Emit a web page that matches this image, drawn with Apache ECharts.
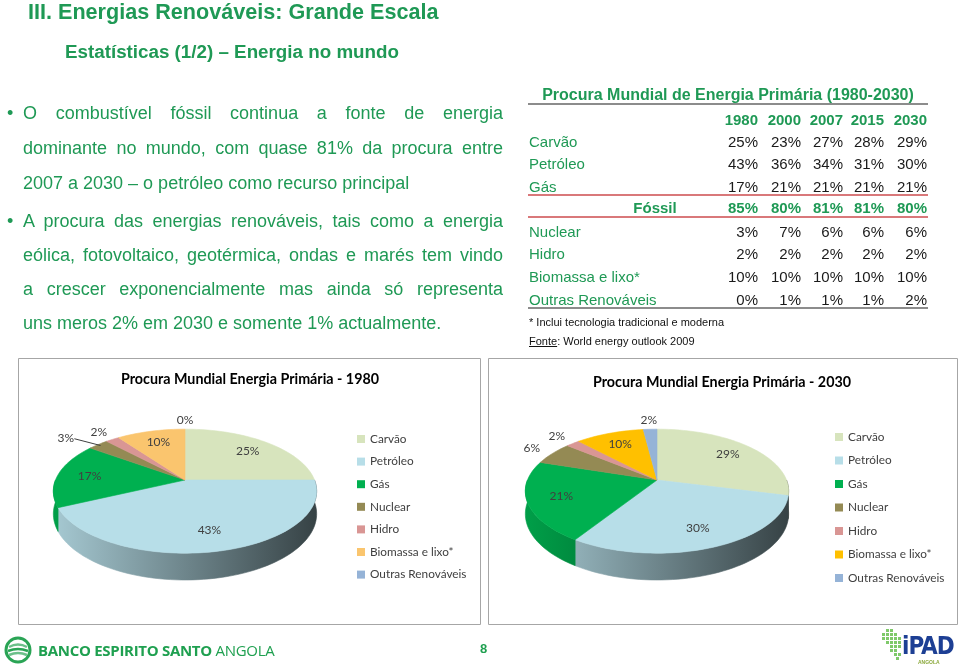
<!DOCTYPE html>
<html>
<head>
<meta charset="utf-8">
<script src="https://cdn.jsdelivr.net/npm/echarts@6/dist/echarts.min.js"></script>
<style>
  html, body { margin:0; padding:0; background:#ffffff; }
  #page { position:relative; width:960px; height:671px; overflow:hidden; background:#ffffff; }
  #chart { position:absolute; left:0; top:0; width:960px; height:671px; }
  .txt { position:absolute; white-space:nowrap; font-family:'Liberation Sans', Arial, sans-serif; color:#1f9955; z-index:3; }
  .jl { text-align:justify; text-align-last:justify; }
</style>
</head>
<body>
<div id="page">
  <div id="chart"></div>
  <div id="texts"></div>
  <div id="table"></div>
</div>
<script>
// ---------------- DATA ----------------
const categories = ['Carvão', 'Petróleo', 'Gás', 'Nuclear', 'Hidro', 'Biomassa e lixo*', 'Outras Renováveis'];
const years = ['1980', '2000', '2007', '2015', '2030'];
const carvao   = [25, 23, 27, 28, 29];
const petroleo = [43, 36, 34, 31, 30];
const gas      = [17, 21, 21, 21, 21];
const fossil   = [85, 80, 81, 81, 80];
const nuclear  = [3, 7, 6, 6, 6];
const hidro    = [2, 2, 2, 2, 2];
const biomassa = [10, 10, 10, 10, 10];
const outras   = [0, 1, 1, 1, 2];
const pieYearIdx = [0, 4]; // 1980, 2030

const slideTitle = 'III. Energias Renováveis: Grande Escala';
const slideSubtitle = 'Estatísticas (1/2) – Energia no mundo';
const tableTitle = 'Procura Mundial de Energia Primária (1980-2030)';
const pieTitlePrefix = 'Procura Mundial Energia Primária - ';
const footnote1 = '* Inclui tecnologia tradicional e moderna';
const bullet1 = ['O combustível fóssil continua a fonte de energia', 'dominante no mundo, com quase 81% da procura entre', '2007 a 2030 – o petróleo como recurso principal'];
const bullet2 = ['A procura das energias renováveis, tais como a energia', 'eólica, fotovoltaico, geotérmica, ondas e marés tem vindo', 'a crescer exponencialmente mas ainda só representa', 'uns meros 2% em 2030 e somente 1% actualmente.'];

// ---------------- STYLE ----------------
const GREEN = '#1f9955';
const colors1980 = ['#d7e4bd', '#b7dee8', '#00b050', '#948a54', '#d99694', '#fac56e', '#95b3d7'];
const colors2030 = ['#d7e4bd', '#b7dee8', '#00b050', '#948a54', '#d99694', '#ffc000', '#95b3d7'];

// ---------------- HTML TEXT ----------------
const texts = document.getElementById('texts');
function addDiv(html, css, cls) {
  const d = document.createElement('div');
  d.className = 'txt' + (cls ? ' ' + cls : '');
  d.style.cssText = css;
  d.innerHTML = html;
  texts.appendChild(d);
  return d;
}
addDiv(slideTitle, 'left:28px;top:0px;font-weight:bold;font-size:21.6px;line-height:24px;');
addDiv(slideSubtitle, 'left:65px;top:41px;font-weight:bold;font-size:18.8px;line-height:22px;');

const lineCenters1 = [113, 148, 183];
const lineCenters2 = [221, 255, 289, 323];
function addBullet(lines, centers) {
  addDiv('•', `left:7px;top:${centers[0]-17}px;font-size:18px;line-height:35px;`);
  lines.forEach((ln, i) => {
    const last = i === lines.length - 1;
    addDiv(ln, `left:23px;top:${centers[i]-17}px;width:${last ? 'auto' : '480px'};font-size:18px;line-height:35px;white-space:normal;`, last ? '' : 'jl');
  });
}
addBullet(bullet1, lineCenters1);
addBullet(bullet2, lineCenters2);

// ---------------- TABLE ----------------
const colRight = [758, 801, 843, 884, 927];
const tableRows = [
  { label: 'Carvão', vals: carvao, y: 142 },
  { label: 'Petróleo', vals: petroleo, y: 164 },
  { label: 'Gás', vals: gas, y: 187 },
  { label: 'Fóssil', vals: fossil, y: 208, bold: true },
  { label: 'Nuclear', vals: nuclear, y: 232 },
  { label: 'Hidro', vals: hidro, y: 254 },
  { label: 'Biomassa e lixo*', vals: biomassa, y: 277 },
  { label: 'Outras Renováveis', vals: outras, y: 300 }
];
addDiv(tableTitle, 'left:528px;width:400px;text-align:center;top:85px;font-weight:bold;font-size:16px;line-height:20px;');
function hline(y, color, h) {
  const d = document.createElement('div');
  d.style.cssText = `position:absolute;left:528px;width:400px;top:${y}px;height:${h}px;background:${color};z-index:3;`;
  texts.appendChild(d);
}
hline(103, '#8c8c8c', 2);
hline(194, '#d9787a', 1.5);
hline(216, '#d9787a', 1.5);
hline(307, '#8c8c8c', 2);
years.forEach((yr, j) => {
  addDiv(yr, `left:${colRight[j]-60}px;width:60px;text-align:right;top:${120-10}px;font-weight:bold;font-size:15px;line-height:20px;`);
});
tableRows.forEach(r => {
  if (r.bold) {
    addDiv(r.label, `left:600px;width:110px;text-align:center;top:${r.y-10}px;font-weight:bold;font-size:15px;line-height:20px;`);
  } else {
    addDiv(r.label, `left:529px;top:${r.y-10}px;font-size:15px;line-height:20px;`);
  }
  r.vals.forEach((v, j) => {
    addDiv(v + '%', `left:${colRight[j]-60}px;width:60px;text-align:right;top:${r.y-10}px;font-size:15px;line-height:20px;color:${r.bold ? GREEN : '#1a1a1a'};${r.bold ? 'font-weight:bold;' : ''}`);
  });
});
addDiv(footnote1, 'left:529px;top:314px;font-size:11px;line-height:16px;color:#111;');
addDiv('<span style="text-decoration:underline">Fonte</span>: World energy outlook 2009', 'left:529px;top:333px;font-size:11px;line-height:16px;color:#111;');

// ---------------- FOOTER ----------------
addDiv('<svg width="28" height="28" viewBox="0 0 28 28"><circle cx="14" cy="14" r="12" fill="#ffffff" stroke="#2aa455" stroke-width="3"/><path d="M5 11 Q14 6 23 11" stroke="#6cc08a" stroke-width="2.5" fill="none"/><path d="M4 15 Q14 11 24 15" stroke="#2aa455" stroke-width="2.5" fill="none"/><path d="M5 19 Q14 15 23 19" stroke="#6cc08a" stroke-width="2.5" fill="none"/></svg>', 'left:4px;top:636px;line-height:0;');
addDiv('<b>BANCO ESPIRITO SANTO</b> ANGOLA', "left:38px;top:641px;font-family:'Open Sans',sans-serif;font-size:15px;line-height:18px;color:#1fa050;letter-spacing:-0.3px;");
addDiv('8', 'left:480px;top:640px;font-weight:bold;font-size:13px;line-height:18px;color:#1fa050;');
addDiv('<svg width="30" height="40" viewBox="0 0 30 40"><g fill="#7fc96a"><rect x="8" y="2" width="3" height="3"/><rect x="12" y="2" width="3" height="3"/><rect x="4" y="6" width="3" height="3"/><rect x="8" y="6" width="3" height="3"/><rect x="12" y="6" width="3" height="3"/><rect x="16" y="6" width="3" height="3"/><rect x="4" y="10" width="3" height="3"/><rect x="8" y="10" width="3" height="3"/><rect x="12" y="10" width="3" height="3"/><rect x="16" y="10" width="3" height="3"/><rect x="20" y="10" width="3" height="3"/><rect x="8" y="14" width="3" height="3"/><rect x="12" y="14" width="3" height="3"/><rect x="16" y="14" width="3" height="3"/><rect x="20" y="14" width="3" height="3"/><rect x="12" y="18" width="3" height="3"/><rect x="16" y="18" width="3" height="3"/><rect x="20" y="18" width="3" height="3"/><rect x="12" y="22" width="3" height="3"/><rect x="16" y="22" width="3" height="3"/><rect x="16" y="26" width="3" height="3"/><rect x="20" y="26" width="3" height="3"/><rect x="18" y="30" width="3" height="3"/></g></svg>', 'left:878px;top:627px;line-height:0;');
addDiv('iPAD', "left:902px;top:632px;font-family:'DejaVu Sans Condensed','DejaVu Sans',sans-serif;font-weight:bold;font-size:24px;line-height:28px;color:#1d3f94;letter-spacing:-1px;");
addDiv('ANGOLA', 'left:918px;top:659px;font-size:5px;line-height:6px;color:#8aa83a;font-weight:bold;');

// ---------------- PIES ----------------
const seriesByCat = [carvao, petroleo, gas, nuclear, hidro, biomassa, outras];
const G = { A: 129.5, B: 60, P: 0.18, D: 22 };
const pies = [
  { idx: pieYearIdx[0], colors: colors1980, cx: 185, cy: 480, legendLeft: 357, legendTop: 431, legendGap: 6.6, titleX: 250, titleY: 379 },
  { idx: pieYearIdx[1], colors: colors2030, cx: 657, cy: 480, legendLeft: 835, legendTop: 429, legendGap: 7.5, titleX: 722, titleY: 382 }
];
pies.forEach(p => { p.values = seriesByCat.map(a => a[p.idx]); p.year = years[p.idx]; });

function proj(pie, theta, f) {
  const t = theta * Math.PI / 180;
  const u = f * Math.sin(t), v = f * Math.cos(t);
  const s = 1 / (1 + G.P * v);
  return [pie.cx + G.A * u * s, pie.cy - G.B * v * s, s];
}
function shade(hex, k) {
  const n = parseInt(hex.slice(1), 16);
  const r = Math.round(((n >> 16) & 255) * k), g = Math.round(((n >> 8) & 255) * k), b = Math.round((n & 255) * k);
  return 'rgb(' + r + ',' + g + ',' + b + ')';
}
function layoutPie(pie) {
  const total = pie.values.reduce((a, b) => a + b, 0);
  let acc = 0;
  pie.slices = pie.values.map(v => {
    const s = acc / total * 360; acc += v; const e = acc / total * 360;
    return { start: s, end: e, mid: (s + e) / 2, value: v };
  });
  pie.slices.forEach(sl => {
    sl.inside = sl.value >= 7;
    const p = proj(pie, sl.mid, sl.inside ? 0.75 : 1.22);
    sl.lx = p[0]; sl.ly = p[1];
    sl.text = sl.value + '%';
    sl.w = sl.text.length * 7.5;
  });
  const placed = [];
  for (let i = pie.slices.length - 1; i >= 0; i--) {
    const sl = pie.slices[i];
    if (sl.inside) continue;
    placed.forEach(q => {
      const ql = q.lx - q.w / 2;
      if (Math.abs(sl.ly - q.ly) < 13 && sl.lx + sl.w / 2 > ql - 6 && sl.lx - sl.w / 2 < q.lx + q.w / 2 + 6) {
        const nx = ql - 18 - sl.w / 2;
        if (nx < sl.lx) { sl.lx = nx; sl.leader = true; }
      }
    });
    placed.push(sl);
  }
}
pies.forEach(layoutPie);

function makeRender(pie, i) {
  return function (params, api) {
    const sl = pie.slices[i];
    const color = pie.colors[i];
    const children = [];
    if (sl.end > sl.start) {
      const steps = Math.max(2, Math.ceil((sl.end - sl.start) / 2));
      const pts = [[pie.cx, pie.cy]];
      for (let k = 0; k <= steps; k++) {
        const t = sl.start + (sl.end - sl.start) * k / steps;
        const p = proj(pie, t, 1);
        pts.push([p[0], p[1]]);
      }
      children.push({ type: 'polygon', z2: 10, shape: { points: pts }, style: { fill: color, stroke: color, lineWidth: 0.6 } });
      const a = Math.max(sl.start, 90), b = Math.min(sl.end, 270);
      if (b > a) {
        const n = Math.max(2, Math.ceil((b - a) / 2));
        const top = [], bot = [];
        for (let k = 0; k <= n; k++) {
          const t = a + (b - a) * k / n;
          const p = proj(pie, t, 1);
          top.push([p[0], p[1]]);
          bot.push([p[0], p[1] + G.D * p[2]]);
        }
        const grad = { type: 'linear', global: true, x: pie.cx - G.A, y: 0, x2: pie.cx + G.A, y2: 0,
          colorStops: [{ offset: 0, color: shade(color, 0.9) }, { offset: 1, color: shade(color, 0.3) }] };
        children.push({ type: 'polygon', z2: 0, shape: { points: top.concat(bot.reverse()) }, style: { fill: grad, stroke: grad, lineWidth: 0.6 } });
      }
    }
    children.push({ type: 'text', z2: 20, x: sl.lx, y: sl.ly, style: { text: sl.text, fill: '#404040', font: '12px Lato', align: 'center', verticalAlign: 'middle' } });
    if (sl.leader) {
      const e = proj(pie, sl.mid, 0.97);
      children.push({ type: 'polyline', z2: 20, shape: { points: [[sl.lx + sl.w / 2 + 1, sl.ly + 1], [e[0], e[1]]] }, style: { stroke: '#404040', lineWidth: 1, fill: null } });
    }
    return { type: 'group', children: children };
  };
}

const series = [];
pies.forEach(pie => {
  categories.forEach((c, i) => {
    series.push({
      type: 'custom', name: c, coordinateSystem: 'none', silent: true, animation: false,
      itemStyle: { color: pie.colors[i] },
      data: [[pie.values[i]]],
      renderItem: makeRender(pie, i)
    });
  });
});

const chart = echarts.init(document.getElementById('chart'));
chart.setOption({
  animation: false,
  backgroundColor: '#ffffff',
  legend: pies.map(p => ({
    orient: 'vertical', left: p.legendLeft, top: p.legendTop, padding: 0,
    itemWidth: 8, itemHeight: 8, itemGap: p.legendGap, icon: 'rect', selectedMode: false,
    textStyle: { fontFamily: 'Lato', fontSize: 11.8, color: '#404040', lineHeight: 16 },
    data: categories.map((c, i) => ({ name: c, itemStyle: { color: p.colors[i] } }))
  })),
  graphic: [
    { type: 'rect', z: -1, shape: { x: 18.5, y: 358.5, width: 462, height: 266 }, style: { fill: '#fff', stroke: '#a6a6a6', lineWidth: 1 } },
    { type: 'rect', z: -1, shape: { x: 488.5, y: 358.5, width: 469, height: 266 }, style: { fill: '#fff', stroke: '#a6a6a6', lineWidth: 1 } },
    ...pies.map(p => ({ type: 'text', x: p.titleX, y: p.titleY, style: { text: pieTitlePrefix + p.year, font: 'bold 14.3px Lato', fill: '#000', align: 'center', verticalAlign: 'middle' } }))
  ],
  series: series
});
</script>
</body>
</html>
